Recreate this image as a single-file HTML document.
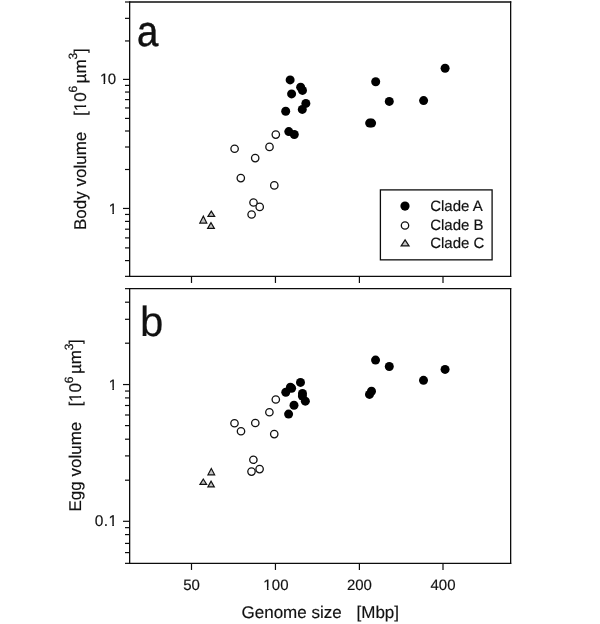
<!DOCTYPE html>
<html><head><meta charset="utf-8"><style>
html,body{margin:0;padding:0;background:#fff;width:600px;height:624px;overflow:hidden}
svg{display:block;will-change:transform}
text{stroke:#111;stroke-width:0.16px;text-rendering:geometricPrecision}
</style></head><body>
<svg width="600" height="624" viewBox="0 0 600 624">
<rect width="600" height="624" fill="#fff"/>
<line x1="129.65" y1="2.00" x2="511.25" y2="2.00" stroke="#0c0c0c" stroke-width="1.45"/>
<line x1="129.65" y1="276.35" x2="511.25" y2="276.35" stroke="#0c0c0c" stroke-width="1.3"/>
<line x1="129.65" y1="1.30" x2="129.65" y2="276.95" stroke="#0c0c0c" stroke-width="1.3"/>
<line x1="510.65" y1="1.30" x2="510.65" y2="276.95" stroke="#0c0c0c" stroke-width="1.3"/>
<line x1="125.00" y1="2.00" x2="129.65" y2="2.00" stroke="#0c0c0c" stroke-width="1.2"/>
<line x1="125.00" y1="18.35" x2="129.65" y2="18.35" stroke="#0c0c0c" stroke-width="1.2"/>
<line x1="125.00" y1="40.95" x2="129.65" y2="40.95" stroke="#0c0c0c" stroke-width="1.2"/>
<line x1="123.00" y1="79.40" x2="129.65" y2="79.40" stroke="#0c0c0c" stroke-width="1.2"/>
<line x1="125.00" y1="85.40" x2="129.65" y2="85.40" stroke="#0c0c0c" stroke-width="1.2"/>
<line x1="125.00" y1="92.05" x2="129.65" y2="92.05" stroke="#0c0c0c" stroke-width="1.2"/>
<line x1="125.00" y1="99.60" x2="129.65" y2="99.60" stroke="#0c0c0c" stroke-width="1.2"/>
<line x1="125.00" y1="107.95" x2="129.65" y2="107.95" stroke="#0c0c0c" stroke-width="1.2"/>
<line x1="125.00" y1="118.40" x2="129.65" y2="118.40" stroke="#0c0c0c" stroke-width="1.2"/>
<line x1="125.00" y1="131.00" x2="129.65" y2="131.00" stroke="#0c0c0c" stroke-width="1.2"/>
<line x1="125.00" y1="147.00" x2="129.65" y2="147.00" stroke="#0c0c0c" stroke-width="1.2"/>
<line x1="125.00" y1="169.50" x2="129.65" y2="169.50" stroke="#0c0c0c" stroke-width="1.2"/>
<line x1="123.00" y1="208.45" x2="129.65" y2="208.45" stroke="#0c0c0c" stroke-width="1.2"/>
<line x1="125.00" y1="214.45" x2="129.65" y2="214.45" stroke="#0c0c0c" stroke-width="1.2"/>
<line x1="125.00" y1="221.40" x2="129.65" y2="221.40" stroke="#0c0c0c" stroke-width="1.2"/>
<line x1="125.00" y1="229.20" x2="129.65" y2="229.20" stroke="#0c0c0c" stroke-width="1.2"/>
<line x1="125.00" y1="237.90" x2="129.65" y2="237.90" stroke="#0c0c0c" stroke-width="1.2"/>
<line x1="125.00" y1="247.90" x2="129.65" y2="247.90" stroke="#0c0c0c" stroke-width="1.2"/>
<line x1="125.00" y1="260.60" x2="129.65" y2="260.60" stroke="#0c0c0c" stroke-width="1.2"/>
<line x1="125.00" y1="276.35" x2="129.65" y2="276.35" stroke="#0c0c0c" stroke-width="1.2"/>
<line x1="191.50" y1="276.35" x2="191.50" y2="282.95" stroke="#0c0c0c" stroke-width="1.2"/>
<line x1="275.45" y1="276.35" x2="275.45" y2="282.95" stroke="#0c0c0c" stroke-width="1.2"/>
<line x1="359.40" y1="276.35" x2="359.40" y2="282.95" stroke="#0c0c0c" stroke-width="1.2"/>
<line x1="443.00" y1="276.35" x2="443.00" y2="282.95" stroke="#0c0c0c" stroke-width="1.2"/>
<line x1="129.65" y1="288.65" x2="511.25" y2="288.65" stroke="#0c0c0c" stroke-width="1.3"/>
<line x1="129.65" y1="563.35" x2="511.25" y2="563.35" stroke="#0c0c0c" stroke-width="1.3"/>
<line x1="129.65" y1="287.95" x2="129.65" y2="563.95" stroke="#0c0c0c" stroke-width="1.3"/>
<line x1="510.65" y1="287.95" x2="510.65" y2="563.95" stroke="#0c0c0c" stroke-width="1.3"/>
<line x1="125.00" y1="288.65" x2="129.65" y2="288.65" stroke="#0c0c0c" stroke-width="1.2"/>
<line x1="125.00" y1="302.20" x2="129.65" y2="302.20" stroke="#0c0c0c" stroke-width="1.2"/>
<line x1="125.00" y1="319.30" x2="129.65" y2="319.30" stroke="#0c0c0c" stroke-width="1.2"/>
<line x1="125.00" y1="343.20" x2="129.65" y2="343.20" stroke="#0c0c0c" stroke-width="1.2"/>
<line x1="123.00" y1="384.55" x2="129.65" y2="384.55" stroke="#0c0c0c" stroke-width="1.2"/>
<line x1="125.00" y1="391.05" x2="129.65" y2="391.05" stroke="#0c0c0c" stroke-width="1.2"/>
<line x1="125.00" y1="397.90" x2="129.65" y2="397.90" stroke="#0c0c0c" stroke-width="1.2"/>
<line x1="125.00" y1="405.50" x2="129.65" y2="405.50" stroke="#0c0c0c" stroke-width="1.2"/>
<line x1="125.00" y1="415.00" x2="129.65" y2="415.00" stroke="#0c0c0c" stroke-width="1.2"/>
<line x1="125.00" y1="425.60" x2="129.65" y2="425.60" stroke="#0c0c0c" stroke-width="1.2"/>
<line x1="125.00" y1="439.20" x2="129.65" y2="439.20" stroke="#0c0c0c" stroke-width="1.2"/>
<line x1="125.00" y1="455.90" x2="129.65" y2="455.90" stroke="#0c0c0c" stroke-width="1.2"/>
<line x1="125.00" y1="480.20" x2="129.65" y2="480.20" stroke="#0c0c0c" stroke-width="1.2"/>
<line x1="123.00" y1="521.30" x2="129.65" y2="521.30" stroke="#0c0c0c" stroke-width="1.2"/>
<line x1="125.00" y1="527.65" x2="129.65" y2="527.65" stroke="#0c0c0c" stroke-width="1.2"/>
<line x1="125.00" y1="534.60" x2="129.65" y2="534.60" stroke="#0c0c0c" stroke-width="1.2"/>
<line x1="125.00" y1="543.40" x2="129.65" y2="543.40" stroke="#0c0c0c" stroke-width="1.2"/>
<line x1="125.00" y1="552.60" x2="129.65" y2="552.60" stroke="#0c0c0c" stroke-width="1.2"/>
<line x1="125.00" y1="563.35" x2="129.65" y2="563.35" stroke="#0c0c0c" stroke-width="1.2"/>
<line x1="191.50" y1="563.35" x2="191.50" y2="569.95" stroke="#0c0c0c" stroke-width="1.2"/>
<line x1="275.45" y1="563.35" x2="275.45" y2="569.95" stroke="#0c0c0c" stroke-width="1.2"/>
<line x1="359.40" y1="563.35" x2="359.40" y2="569.95" stroke="#0c0c0c" stroke-width="1.2"/>
<line x1="443.00" y1="563.35" x2="443.00" y2="569.95" stroke="#0c0c0c" stroke-width="1.2"/>
<circle cx="234.60" cy="148.75" r="3.7" fill="#fff" stroke="#111" stroke-width="1.3"/>
<circle cx="255.20" cy="158.10" r="3.7" fill="#fff" stroke="#111" stroke-width="1.3"/>
<circle cx="269.50" cy="146.90" r="3.7" fill="#fff" stroke="#111" stroke-width="1.3"/>
<circle cx="275.80" cy="134.60" r="3.7" fill="#fff" stroke="#111" stroke-width="1.3"/>
<circle cx="240.80" cy="178.10" r="3.7" fill="#fff" stroke="#111" stroke-width="1.3"/>
<circle cx="274.30" cy="185.40" r="3.7" fill="#fff" stroke="#111" stroke-width="1.3"/>
<circle cx="253.50" cy="202.50" r="3.7" fill="#fff" stroke="#111" stroke-width="1.3"/>
<circle cx="259.70" cy="206.90" r="3.7" fill="#fff" stroke="#111" stroke-width="1.3"/>
<circle cx="251.60" cy="214.50" r="3.7" fill="#fff" stroke="#111" stroke-width="1.3"/>
<polygon points="211.30,211.15 207.95,216.30 214.65,216.30" fill="#c4c4c4" stroke="#111" stroke-width="1.2" stroke-linejoin="miter"/>
<polygon points="203.30,216.15 199.80,223.10 206.80,223.10" fill="#c4c4c4" stroke="#111" stroke-width="1.2" stroke-linejoin="miter"/>
<polygon points="211.00,222.65 207.65,228.40 214.35,228.40" fill="#c4c4c4" stroke="#111" stroke-width="1.2" stroke-linejoin="miter"/>
<circle cx="290.15" cy="79.90" r="4.5" fill="#000"/>
<circle cx="300.65" cy="87.15" r="4.5" fill="#000"/>
<circle cx="302.50" cy="90.40" r="4.5" fill="#000"/>
<circle cx="291.60" cy="93.90" r="4.5" fill="#000"/>
<circle cx="305.85" cy="103.40" r="4.5" fill="#000"/>
<circle cx="302.30" cy="109.40" r="4.5" fill="#000"/>
<circle cx="285.70" cy="111.20" r="4.5" fill="#000"/>
<circle cx="288.80" cy="131.60" r="4.5" fill="#000"/>
<circle cx="294.30" cy="134.50" r="4.5" fill="#000"/>
<circle cx="375.70" cy="81.80" r="4.5" fill="#000"/>
<circle cx="389.30" cy="101.40" r="4.5" fill="#000"/>
<circle cx="423.60" cy="100.60" r="4.5" fill="#000"/>
<circle cx="445.10" cy="68.20" r="4.5" fill="#000"/>
<circle cx="369.65" cy="123.10" r="4.5" fill="#000"/>
<circle cx="371.60" cy="123.10" r="4.5" fill="#000"/>
<circle cx="234.50" cy="423.25" r="3.7" fill="#fff" stroke="#111" stroke-width="1.3"/>
<circle cx="241.00" cy="431.25" r="3.7" fill="#fff" stroke="#111" stroke-width="1.3"/>
<circle cx="255.30" cy="423.00" r="3.7" fill="#fff" stroke="#111" stroke-width="1.3"/>
<circle cx="274.25" cy="434.10" r="3.7" fill="#fff" stroke="#111" stroke-width="1.3"/>
<circle cx="275.80" cy="399.50" r="3.7" fill="#fff" stroke="#111" stroke-width="1.3"/>
<circle cx="269.40" cy="412.25" r="3.7" fill="#fff" stroke="#111" stroke-width="1.3"/>
<circle cx="253.40" cy="459.75" r="3.7" fill="#fff" stroke="#111" stroke-width="1.3"/>
<circle cx="259.60" cy="469.10" r="3.7" fill="#fff" stroke="#111" stroke-width="1.3"/>
<circle cx="251.50" cy="471.60" r="3.7" fill="#fff" stroke="#111" stroke-width="1.3"/>
<polygon points="211.30,468.45 207.95,474.80 214.65,474.80" fill="#c4c4c4" stroke="#111" stroke-width="1.2" stroke-linejoin="miter"/>
<polygon points="203.30,479.05 199.95,484.40 206.65,484.40" fill="#c4c4c4" stroke="#111" stroke-width="1.2" stroke-linejoin="miter"/>
<polygon points="211.10,481.15 207.90,486.90 214.30,486.90" fill="#c4c4c4" stroke="#111" stroke-width="1.2" stroke-linejoin="miter"/>
<circle cx="300.50" cy="382.40" r="4.5" fill="#000"/>
<circle cx="290.40" cy="387.30" r="4.5" fill="#000"/>
<circle cx="291.60" cy="388.30" r="4.5" fill="#000"/>
<circle cx="285.80" cy="392.30" r="4.5" fill="#000"/>
<circle cx="302.50" cy="393.50" r="4.5" fill="#000"/>
<circle cx="302.40" cy="396.10" r="4.5" fill="#000"/>
<circle cx="305.35" cy="401.15" r="4.5" fill="#000"/>
<circle cx="294.00" cy="405.30" r="4.5" fill="#000"/>
<circle cx="288.60" cy="414.10" r="4.5" fill="#000"/>
<circle cx="375.55" cy="360.10" r="4.5" fill="#000"/>
<circle cx="389.30" cy="366.50" r="4.5" fill="#000"/>
<circle cx="423.50" cy="380.35" r="4.5" fill="#000"/>
<circle cx="445.07" cy="369.44" r="4.5" fill="#000"/>
<circle cx="371.50" cy="391.30" r="4.5" fill="#000"/>
<circle cx="369.50" cy="394.40" r="4.5" fill="#000"/>
<rect x="380.4" y="189.9" width="111.7" height="69.95" fill="#fff" stroke="#0c0c0c" stroke-width="1.3"/>
<circle cx="405.00" cy="206.10" r="4.6" fill="#000"/>
<circle cx="405.00" cy="225.50" r="3.7" fill="#fff" stroke="#111" stroke-width="1.3"/>
<polygon points="405.10,239.95 401.15,245.90 409.05,245.90" fill="#c4c4c4" stroke="#111" stroke-width="1.2" stroke-linejoin="miter"/>
<g font-family="Liberation Sans, Arial, sans-serif" fill="#111">
<text transform="translate(136.9,46.0) scale(0.89,1)" font-size="43" style="stroke-width:0.5px">a</text>
<text x="140.00" y="336.00" font-size="42" text-anchor="start" >b</text>
<text x="99.90" y="84.40" font-size="15" clip-path="url(#c1_1)">1</text>
<text x="107.80" y="84.40" font-size="15" text-anchor="start" >0</text>
<text x="108.70" y="214.10" font-size="15" clip-path="url(#c1_2)">1</text>
<text x="108.70" y="390.00" font-size="15" clip-path="url(#c1_3)">1</text>
<text x="94.7 103.8" y="526.4" font-size="15.5">0.</text>
<text x="108.50" y="526.40" font-size="15.5" clip-path="url(#c1_4)">1</text>
<text x="191.50" y="589.80" font-size="15" text-anchor="middle" >50</text>
<text x="263.30" y="589.80" font-size="15" clip-path="url(#c1_5)">1</text>
<text x="271.7 280.2" y="589.8" font-size="15">00</text>
<text x="359.40" y="589.80" font-size="15" text-anchor="middle" >200</text>
<text x="443.00" y="589.80" font-size="15" text-anchor="middle" >400</text>
<text x="241.50" y="618.00" font-size="17" text-anchor="start" >Genome size<tspan x="356.5">[Mbp]</tspan></text>
</g>
<g transform="translate(85.7,230.0) rotate(-90)" font-family="Liberation Sans, Arial, sans-serif" fill="#111" font-size="17">
<text x="0" y="0">Body volume</text>
<text x="114.10" y="0">[</text>
<text x="118.83" y="0.00" font-size="17" clip-path="url(#c1_6)">1</text>
<text x="128.28" y="0">0</text>
<text x="137.50" y="-8.90" font-size="12">6</text>
<text x="146.60" y="0">µm</text>
<text x="170.50" y="-8.90" font-size="12">3</text>
<text x="177.10" y="0">]</text>
</g>
<g transform="translate(81.2,511.5) rotate(-90)" font-family="Liberation Sans, Arial, sans-serif" fill="#111" font-size="17">
<text x="0" y="0">Egg volume</text>
<text x="104.90" y="0">[</text>
<text x="109.63" y="0.00" font-size="17" clip-path="url(#c1_7)">1</text>
<text x="119.08" y="0">0</text>
<text x="128.30" y="-8.50" font-size="12">6</text>
<text x="137.40" y="0">µm</text>
<text x="161.20" y="-8.50" font-size="12">3</text>
<text x="167.60" y="0">]</text>
</g>
<g font-family="Liberation Sans, Arial, sans-serif" fill="#111">
<text x="430.20" y="211.30" font-size="15" text-anchor="start" >Clade A</text>
<text x="430.20" y="230.30" font-size="15" text-anchor="start" >Clade B</text>
<text x="430.20" y="248.40" font-size="15" text-anchor="start" >Clade C</text>
</g>
<defs><clipPath id="c1_1" clipPathUnits="userSpaceOnUse"><rect x="96.90" y="69.40" width="15.00" height="12.60"/><rect x="103.53" y="69.40" width="1.61" height="18.00"/></clipPath><clipPath id="c1_2" clipPathUnits="userSpaceOnUse"><rect x="105.70" y="199.10" width="15.00" height="12.60"/><rect x="112.33" y="199.10" width="1.61" height="18.00"/></clipPath><clipPath id="c1_3" clipPathUnits="userSpaceOnUse"><rect x="105.70" y="375.00" width="15.00" height="12.60"/><rect x="112.33" y="375.00" width="1.61" height="18.00"/></clipPath><clipPath id="c1_4" clipPathUnits="userSpaceOnUse"><rect x="105.50" y="510.90" width="15.50" height="13.02"/><rect x="112.25" y="510.90" width="1.66" height="18.50"/></clipPath><clipPath id="c1_5" clipPathUnits="userSpaceOnUse"><rect x="260.30" y="574.80" width="15.00" height="12.60"/><rect x="266.93" y="574.80" width="1.61" height="18.00"/></clipPath><clipPath id="c1_6" clipPathUnits="userSpaceOnUse"><rect x="115.83" y="-17.00" width="17.00" height="14.28"/><rect x="122.94" y="-17.00" width="1.82" height="20.00"/></clipPath><clipPath id="c1_7" clipPathUnits="userSpaceOnUse"><rect x="106.63" y="-17.00" width="17.00" height="14.28"/><rect x="113.74" y="-17.00" width="1.82" height="20.00"/></clipPath></defs>
</svg>
</body></html>
